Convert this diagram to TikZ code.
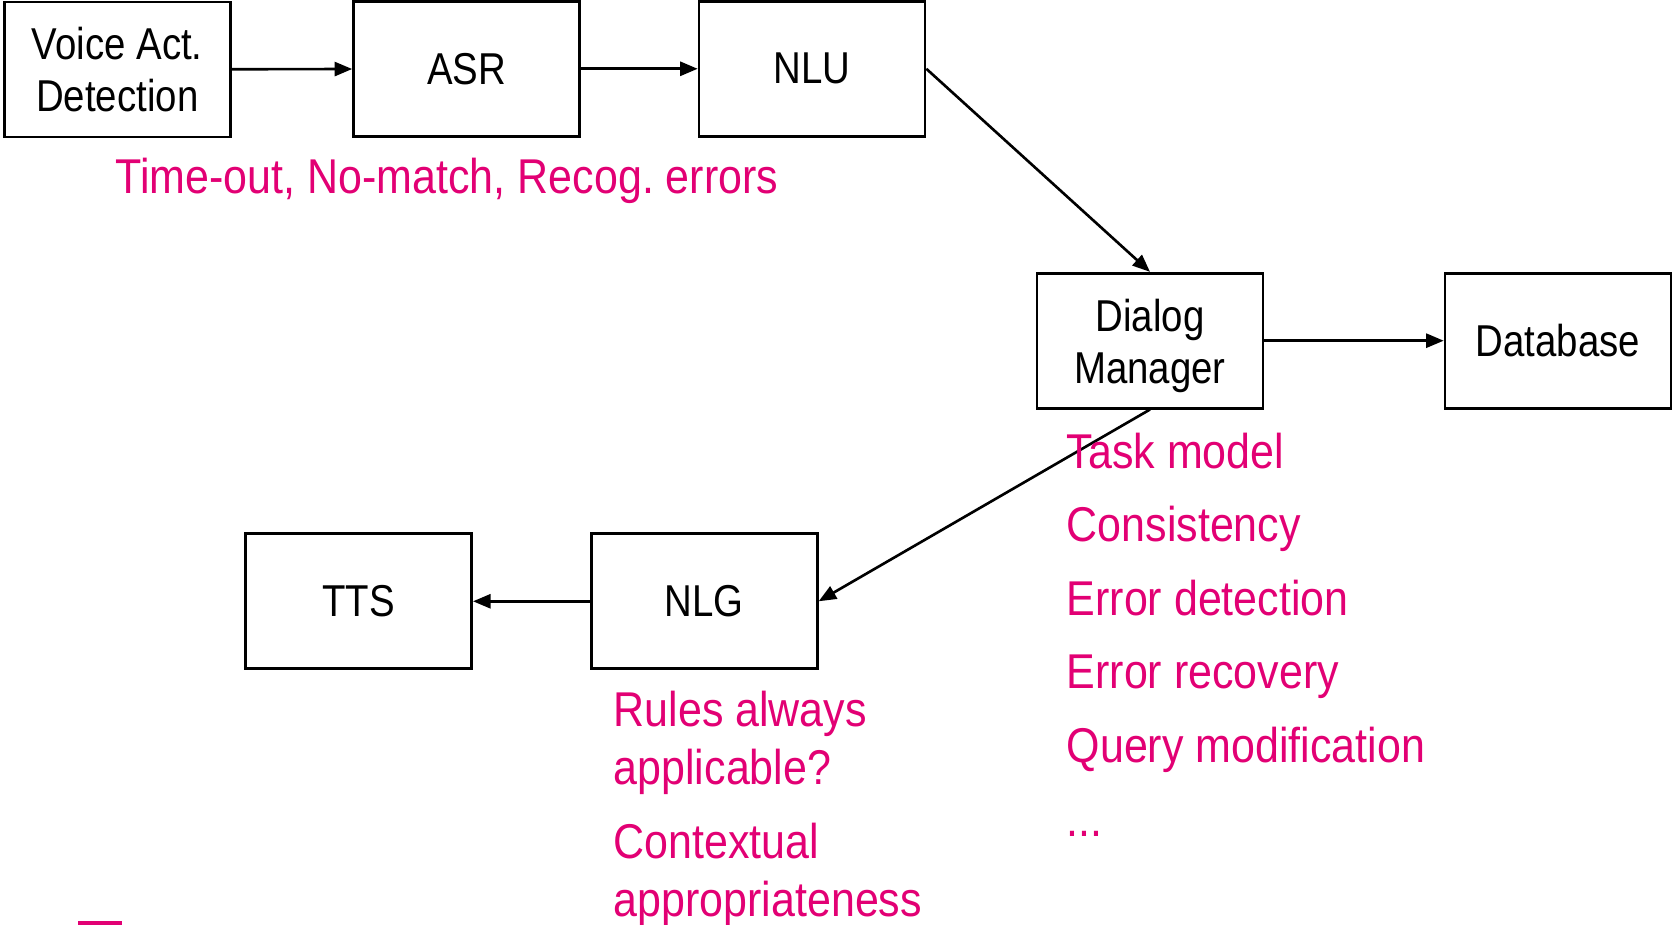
\documentclass[tikz,border=0pt]{standalone}
\usepackage{fontspec}
\setmainfont{Liberation Sans}[FakeStretch=0.86]
\newfontfamily\notefont{Liberation Sans}[FakeStretch=0.88]
\usepackage{xcolor}
\usetikzlibrary{arrows.meta}
\definecolor{tmagenta}{HTML}{E20074}
\frenchspacing

\begin{document}
\begin{tikzpicture}[box/.style={draw,line width=0.75pt,minimum width=2.26cm,
    minimum height=1.35cm,inner sep=0pt,align=center,font=\fontsize{12.7}{14.7}\selectfont},
  note/.style={anchor=base west,inner sep=0pt,text=tmagenta,font=\notefont\fontsize{13.9}{16}\selectfont},
  flow/.style={-{Triangle[length=5pt,width=4pt]},line width=0.75pt}]
\useasboundingbox (0,0) rectangle (16.72,-9.25);
\node[box] (vad) at (1.173,-0.695) {Voice Act.\\Detection};
\node[box] (asr) at (4.665,-0.688) {ASR};
\node[box] (nlu) at (8.12,-0.688) {NLU};
\node[box] (dm) at (11.50,-3.407) {\rule{0pt}{12.2pt}Dialog\\Manager};
\node[box] (db) at (15.58,-3.407) {Database};
\node[box] (tts) at (3.587,-6.013) {TTS};
\node[box] (nlg) at (7.043,-6.013) {NLG};
\draw[flow] (vad) -- (asr);
\draw[flow] (asr) -- (nlu);
\draw[flow] (nlu.east) -- (dm.north);
\draw[flow] (dm) -- (db);
\draw[flow] (dm.south) -- (nlg.east);
\draw[flow] (nlg) -- (tts);
% error notes
\node[note] (errs) at (1.15,-1.94) {Time-out, No-match, Recog. errors};
\node[note] (task) at (10.66,-4.685) {Task model};
\node[note] (cons) at (10.66,-5.42) {Consistency};
\node[note] (edet) at (10.66,-6.155) {Error detection};
\node[note] (erec) at (10.66,-6.89) {Error recovery};
\node[note] (qmod) at (10.66,-7.625) {Query modification};
\node[note] (more) at (10.66,-8.37) {...};
\node[note] (rul1) at (6.13,-7.27) {Rules always};
\node[note] (rul2) at (6.13,-7.85) {applicable?};
\node[note] (ctx1) at (6.13,-8.585) {Contextual};
\node[note] (ctx2) at (6.13,-9.165) {appropriateness};
\fill[tmagenta] (0.78,-9.21) rectangle (1.22,-9.25);
\end{tikzpicture}
\end{document}
